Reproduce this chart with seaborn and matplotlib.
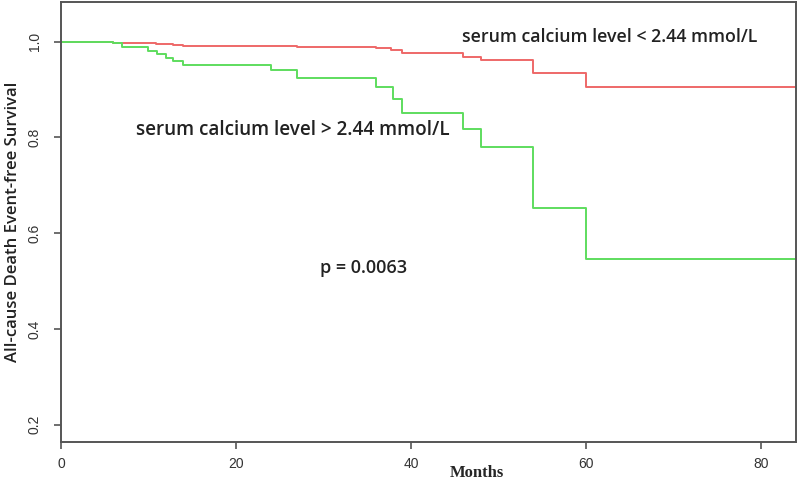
import numpy as np
import pandas as pd
import matplotlib
matplotlib.use("Agg")
import matplotlib.pyplot as plt
import seaborn as sns

# Kaplan-Meier step points (month, survival)
low_months = [0, 6, 10.9, 12.8, 14, 27, 36, 37.7, 39, 46, 48, 54, 60, 84]
low_surv = [1.0, 0.998, 0.996, 0.994, 0.992, 0.989, 0.987, 0.983, 0.976, 0.969, 0.962, 0.934, 0.906, 0.906]

high_months = [0, 6, 7, 10, 11, 12, 12.8, 14, 24, 27, 36, 38, 39, 46, 48, 54, 60, 84]
high_surv = [1.0, 0.998, 0.988, 0.981, 0.974, 0.966, 0.960, 0.951, 0.941, 0.925, 0.906, 0.880, 0.852,
             0.817, 0.781, 0.653, 0.546, 0.546]

x_ticks = [0, 20, 40, 60, 80]
y_ticks = [0.2, 0.4, 0.6, 0.8, 1.0]

df = pd.concat([
    pd.DataFrame({"Months": low_months, "Survival": low_surv, "group": "low"}),
    pd.DataFrame({"Months": high_months, "Survival": high_surv, "group": "high"}),
])

sns.set_style("white")

fig = plt.figure(figsize=(7.97, 4.83), dpi=100)
ax = fig.add_axes([0.0765, 0.085, 0.922, 0.911])

sns.lineplot(data=df, x="Months", y="Survival", hue="group",
             palette={"low": "#EE6868", "high": "#5EDD5E"},
             drawstyle="steps-post", linewidth=1.4, legend=False, ax=ax, estimator=None)

ax.set_xlim(0, 84)
ax.set_ylim(0.164, 1.083)
ax.set_xticks(x_ticks)
ax.set_xticklabels([str(t) for t in x_ticks], family="Liberation Sans", fontsize=10)
ax.set_yticks(y_ticks)
ax.set_yticklabels([f"{t:.1f}" for t in y_ticks], rotation=90, va="center",
                   family="Liberation Sans", fontsize=10)

for s in ax.spines.values():
    s.set_color("#555555")
    s.set_linewidth(1.4)
ax.tick_params(axis="both", direction="out", length=5, width=1.2, color="#555555",
               labelcolor="#333333", left=True, bottom=True)
ax.tick_params(axis="y", pad=9)
ax.tick_params(axis="x", pad=6)

ax.set_xlabel("")
ax.set_ylabel("")
fig.text(0.598, 0.004, "Months", family="Liberation Serif", weight="bold", fontsize=12,
         ha="center", va="bottom")
fig.text(0.016, 0.54, "All-cause Death Event-free Survival", family="Open Sans",
         weight="semibold", fontsize=12, rotation=90, ha="center", va="center", color="#222222")

txt = dict(family="Open Sans", weight="semibold", color="#222222", va="center")
ax.text(45.8, 1.01, "serum calcium level < 2.44 mmol/L", fontsize=12.8, **txt)
ax.text(8.6, 0.816, "serum calcium level > 2.44 mmol/L", fontsize=13.6, **txt)
ax.text(29.6, 0.528, "p = 0.0063", fontsize=13, **txt)

fig.savefig("out.png", dpi=100)
